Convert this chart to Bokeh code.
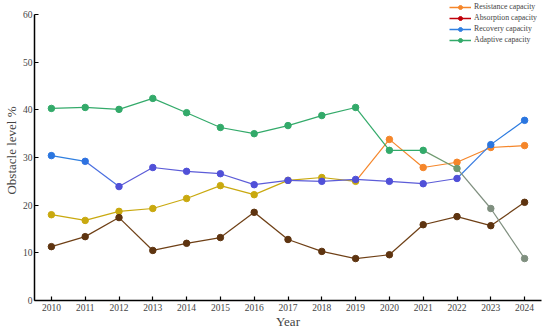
from bokeh.plotting import figure
from bokeh.embed import file_html
from bokeh.resources import INLINE
from bokeh.models import Range1d, Legend, LegendItem, FixedTicker
from bokeh.core.properties import value

years = [2010, 2011, 2012, 2013, 2014, 2015, 2016, 2017, 2018, 2019, 2020, 2021, 2022, 2023, 2024]
resistance = [18.0, 16.8, 18.7, 19.3, 21.4, 24.1, 22.2, 25.2, 25.8, 25.0, 33.8, 27.9, 29.0, 32.1, 32.5]
absorption = [11.3, 13.4, 17.4, 10.5, 12.0, 13.2, 18.5, 12.8, 10.3, 8.8, 9.6, 15.9, 17.6, 15.7, 20.6]
recovery = [30.4, 29.2, 23.9, 27.9, 27.1, 26.6, 24.3, 25.2, 25.0, 25.4, 25.0, 24.5, 25.6, 32.7, 37.8]
adaptive = [40.3, 40.5, 40.1, 42.4, 39.4, 36.3, 35.0, 36.7, 38.8, 40.5, 31.5, 31.5, 27.7, 19.3, 8.8]
series_names = ["Resistance capacity", "Absorption capacity", "Recovery capacity", "Adaptive capacity"]
y_ticks = [0, 10, 20, 30, 40, 50, 60]

FONT = "Liberation Serif"
p = figure(frame_width=507, frame_height=300, output_backend="svg", toolbar_location=None,
           x_range=Range1d(2009.5, 2024.5), y_range=Range1d(0, 62.94),
           min_border_left=0, min_border_right=4, min_border_top=0, min_border_bottom=0)
p.outline_line_color = None
p.xgrid.visible = False
p.ygrid.visible = False

for ax in (p.xaxis[0], p.yaxis[0]):
    ax.major_tick_in = 4
    ax.major_tick_out = 0
    ax.minor_tick_line_color = None
    ax.axis_line_width = 1.5
    ax.major_tick_line_width = 1.2
    ax.major_label_text_font = FONT
    ax.major_label_text_font_size = "9.5px"
    ax.axis_label_text_font = FONT
    ax.axis_label_text_font_size = "13px"
    ax.axis_label_text_font_style = "normal"
p.xaxis.ticker = FixedTicker(ticks=years)
p.yaxis.ticker = FixedTicker(ticks=y_ticks)
p.yaxis.bounds = (y_ticks[0], y_ticks[-1])
p.xaxis.axis_label = "Year"
p.yaxis.axis_label = "Obstacle level %"
p.xaxis.axis_label_standoff = 0
p.yaxis.axis_label_standoff = 1
p.xaxis.major_label_standoff = 3
p.yaxis.major_label_standoff = 2

data = [resistance, absorption, recovery, adaptive]
seg_colors = [
    ["#c9a90f"] * 9 + ["#f5862a"] * 5,
    ["#6e3f15"] * 14,
    ["#2f7fe0", "#4a6fe0", "#5c5cd8", "#5c5cd8", "#5c5cd8", "#5c5cd8", "#5c5cd8", "#5c5cd8",
     "#5c5cd8", "#5c5cd8", "#5c5cd8", "#5c5cd8", "#3a7de0", "#2a7ae0"],
    ["#33aa6a"] * 11 + ["#6f9a6f", "#7f8f7f", "#7f8f7f"],
]
pt_colors = [
    ["#c9a90f"] * 10 + ["#f5862a"] * 5,
    ["#5e3410"] * 15,
    ["#2a76e0", "#2f72e0", "#5050d8", "#5050d8", "#5050d8", "#5050d8", "#5050d8", "#5050d8",
     "#5050d8", "#5050d8", "#5050d8", "#5050d8", "#5050d8", "#2a76e0", "#2a76e0"],
    ["#33aa6a"] * 12 + ["#6f9a6f", "#7f8f7f", "#7f8f7f"],
]
for vals, sc, pc in zip(data, seg_colors, pt_colors):
    p.segment(x0=years[:-1], y0=vals[:-1], x1=years[1:], y1=vals[1:], line_color=sc, line_width=1.2)
    p.scatter(x=years, y=vals, size=6.5, fill_color=pc, line_color=pc)

legend_colors = ["#f5862a", "#c0000a", "#2f7fe0", "#33aa6a"]
items = []
for name, c in zip(series_names, legend_colors):
    r1 = p.line(x=[years[0]], y=[-10], line_color=c, line_width=1.5)
    r2 = p.scatter(x=[years[0]], y=[-10], size=6, fill_color=c, line_color=c)
    items.append(LegendItem(label=name, renderers=[r1, r2]))
leg = Legend(items=items, location=(415, 255), border_line_color=None,
             background_fill_alpha=0, label_text_font=FONT, label_text_font_size="7.8px",
             glyph_width=22, glyph_height=10, label_height=11, spacing=0, padding=1, margin=0,
             label_standoff=3)
p.add_layout(leg)

open("out.html", "w").write(file_html(p, INLINE))
